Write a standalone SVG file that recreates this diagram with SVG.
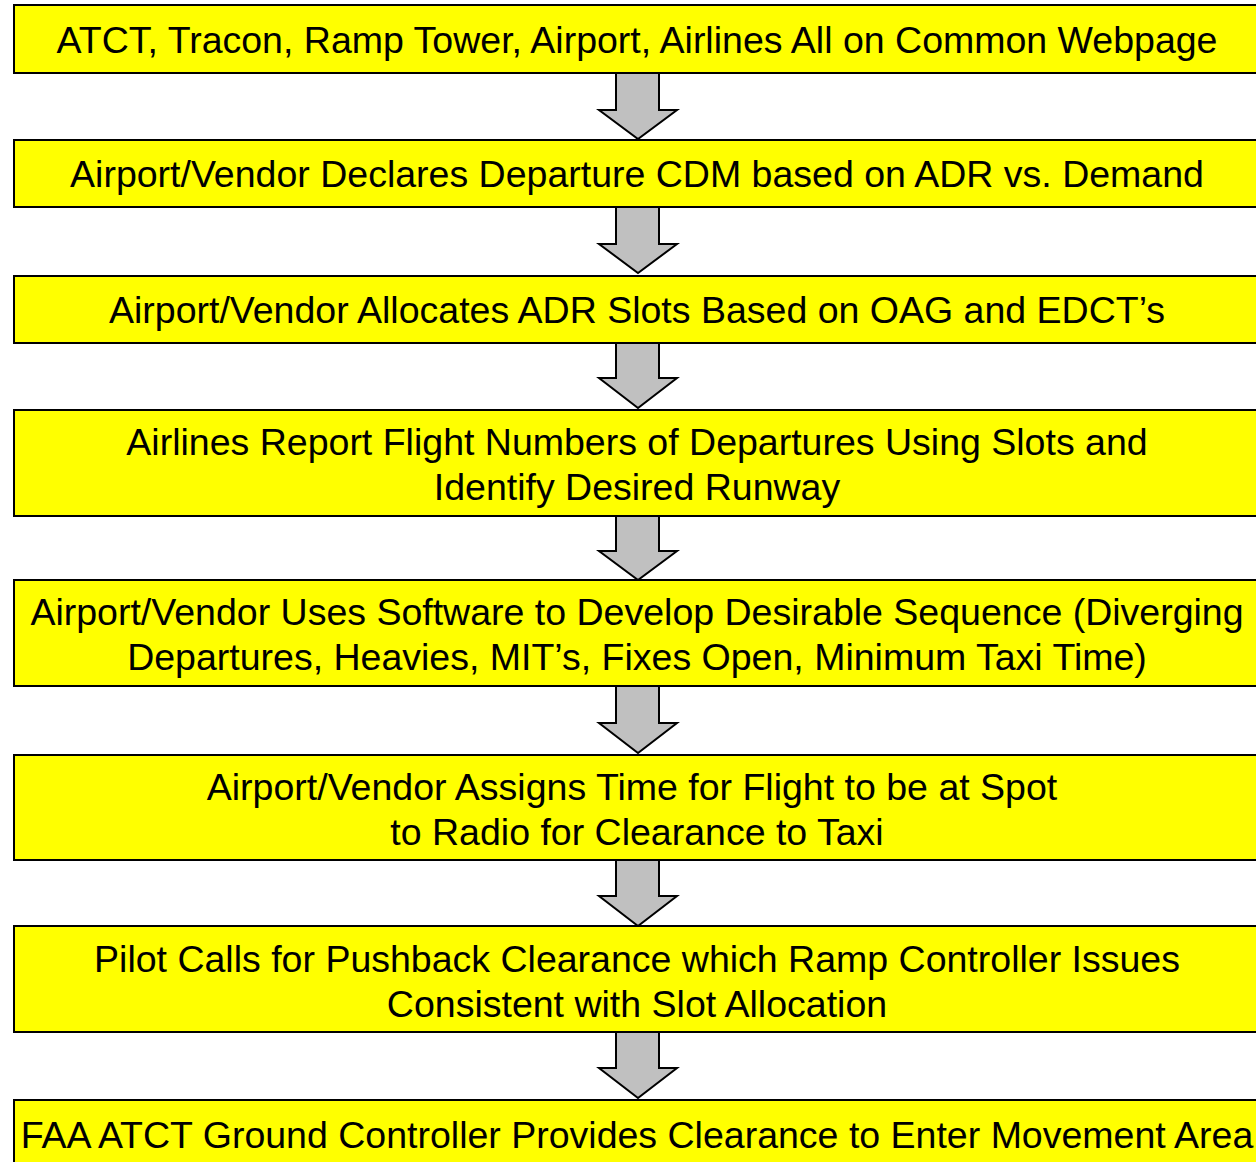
<svg xmlns="http://www.w3.org/2000/svg" width="1256" height="1162" viewBox="0 0 1256 1162">
<style>
.box{fill:#ffff00;stroke:#000;stroke-width:2}
.t{font-family:"Liberation Sans",Arial,sans-serif;font-size:37.5px;fill:#000;text-anchor:middle}
.arr{fill:#c0c0c0;stroke:#000;stroke-width:2;stroke-linejoin:miter}
</style>
<rect width="1256" height="1162" fill="#fff"/>
<g id="connectors">
<path class="arr" d="M616,73 H659 V110 H677 L638,139 L599,110 H616 Z"/>
<path class="arr" d="M616,207 H659 V244 H677 L638,273 L599,244 H616 Z"/>
<path class="arr" d="M616,343 H659 V378 H677 L638,408 L599,378 H616 Z"/>
<path class="arr" d="M616,516 H659 V551 H677 L638,580 L599,551 H616 Z"/>
<path class="arr" d="M616,686 H659 V723 H677 L638,753 L599,723 H616 Z"/>
<path class="arr" d="M616,860 H659 V896 H677 L638,926 L599,896 H616 Z"/>
<path class="arr" d="M616,1032 H659 V1068 H677 L638,1098 L599,1068 H616 Z"/>
</g>
<g id="n1"><rect class="box" x="14" y="5" width="1250" height="68"/><text class="t" x="637" y="53">ATCT, Tracon, Ramp Tower, Airport, Airlines All on Common Webpage</text></g>
<g id="n2"><rect class="box" x="14" y="140" width="1250" height="67"/><text class="t" x="637" y="187">Airport/Vendor Declares Departure CDM based on ADR vs. Demand</text></g>
<g id="n3"><rect class="box" x="14" y="276" width="1250" height="67"/><text class="t" x="637" y="323">Airport/Vendor Allocates ADR Slots Based on OAG and EDCT’s</text></g>
<g id="n4"><rect class="box" x="14" y="410" width="1250" height="106"/><text class="t" x="637" y="455">Airlines Report Flight Numbers of Departures Using Slots and</text><text class="t" x="637" y="500">Identify Desired Runway</text></g>
<g id="n5"><rect class="box" x="14" y="580" width="1250" height="106"/><text class="t" x="637" y="625">Airport/Vendor Uses Software to Develop Desirable Sequence (Diverging</text><text class="t" x="637" y="670">Departures, Heavies, MIT’s, Fixes Open, Minimum Taxi Time)</text></g>
<g id="n6"><rect class="box" x="14" y="755" width="1250" height="105"/><text class="t" x="632" y="800">Airport/Vendor Assigns Time for Flight to be at Spot</text><text class="t" x="637" y="845">to Radio for Clearance to Taxi</text></g>
<g id="n7"><rect class="box" x="14" y="926" width="1250" height="106"/><text class="t" x="637" y="972">Pilot Calls for Pushback Clearance which Ramp Controller Issues</text><text class="t" x="637" y="1017">Consistent with Slot Allocation</text></g>
<g id="n8"><rect class="box" x="14" y="1100" width="1250" height="80"/><text class="t" x="637" y="1148">FAA ATCT Ground Controller Provides Clearance to Enter Movement Area</text></g>
</svg>
